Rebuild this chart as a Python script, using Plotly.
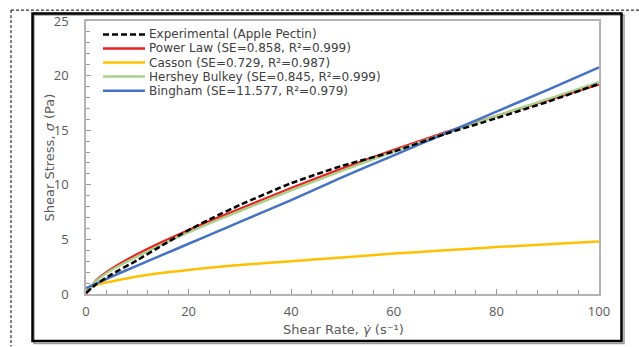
import plotly.graph_objects as go

# ---- data ----
shear_rate = [0, 2, 5, 10, 15, 20, 25, 30, 40, 50, 60, 70, 80, 90, 100]
experimental = [0.1, 0.9, 1.8, 3.1, 4.5, 5.85, 7.05, 8.15, 10.15, 11.75, 13.05, 14.65, 16.1, 17.6, 19.25]
power_law = [0.0, 1.25, 2.3, 3.65, 4.8, 5.85, 6.85, 7.8, 9.7, 11.5, 13.2, 14.8, 16.3, 17.75, 19.2]
casson = [0.5, 0.85, 1.15, 1.6, 1.95, 2.2, 2.45, 2.65, 3.0, 3.35, 3.7, 4.0, 4.3, 4.55, 4.8]
hershey_bulkley = [0.2, 1.2, 2.2, 3.45, 4.6, 5.65, 6.65, 7.6, 9.5, 11.3, 13.05, 14.7, 16.3, 17.85, 19.4]
bingham = [0.55, 0.95, 1.6, 2.6, 3.6, 4.6, 5.6, 6.6, 8.6, 10.7, 12.7, 14.7, 16.7, 18.7, 20.75]

series_names = [
    "Experimental (Apple Pectin)",
    "Power Law (SE=0.858, R²=0.999)",
    "Casson (SE=0.729, R²=0.987)",
    "Hershey Bulkey (SE=0.845, R²=0.999)",
    "Bingham (SE=11.577, R²=0.979)",
]
series_values = [experimental, power_law, casson, hershey_bulkley, bingham]
series_colors = ["#000000", "#f01e1e", "#ffc000", "#a9d18e", "#4472c4"]
series_dash = ["dash", "solid", "solid", "solid", "solid"]

x_ticks = [0, 20, 40, 60, 80, 100]
y_ticks = [0, 5, 10, 15, 20, 25]

FONT = "Open Sans"
LEG_FONT = "DejaVu Sans"
TXT = "#595959"

fig = go.Figure()
# draw order: fits first, experimental on top
order = [1, 2, 3, 4, 0]
for i in order:
    fig.add_trace(go.Scatter(
        x=shear_rate, y=series_values[i], mode="lines", name=series_names[i],
        line=dict(color=series_colors[i], width=2.5,
                  dash="6px,3px" if series_dash[i] == "dash" else "solid",
                  shape="spline", smoothing=0.5),
        showlegend=False, hoverinfo="skip"))

axis_common = dict(showline=True, mirror=True, linecolor="#b3b3b3", linewidth=1.5,
                   showgrid=False, zeroline=False, ticks="inside", ticklen=5,
                   tickcolor="#9a9a9a", tickwidth=1,
                   tickfont=dict(family=FONT, size=13, color=TXT))

fig.update_xaxes(range=[0, 100], tickvals=x_ticks, ticklabelstandoff=5,
                 minor=dict(dtick=4, ticks="inside", ticklen=4, tickcolor="#9a9a9a"),
                 **axis_common)
fig.update_yaxes(range=[0, 25], tickvals=y_ticks, ticklabelstandoff=13,
                 minor=dict(dtick=1, ticks="inside", ticklen=4, tickcolor="#9a9a9a"),
                 **axis_common)

W, H = 639, 347
L, R, T, B = 86, 40, 18, 53
pw, ph = W - L - R, H - T - B


def px(x):
    return (x - L) / pw


def py(y):
    return (H - B - y) / ph


shapes = []
# outer dashed border
shapes.append(dict(type="line", xref="paper", yref="paper", x0=px(11), x1=px(11), y0=py(7), y1=py(347),
                   line=dict(color="#000000", width=1, dash="3px,2px")))
shapes.append(dict(type="line", xref="paper", yref="paper", x0=px(11), x1=px(639), y0=py(7), y1=py(7),
                   line=dict(color="#000000", width=1, dash="3px,2px")))
# black chart frame with light shadow
shapes.append(dict(type="rect", xref="paper", yref="paper", x0=px(34), x1=px(624), y0=py(12), y1=py(344),
                   line=dict(color="#9a9a9a", width=1.5)))
shapes.append(dict(type="rect", xref="paper", yref="paper", x0=px(32.5), x1=px(621.5), y0=py(10.5), y1=py(341.5),
                   line=dict(color="#000000", width=2.5), fillcolor="rgba(0,0,0,0)"))

annotations = []
# manual legend (tight rows like the reference)
leg_rows = [31.6, 45.8, 60.0, 74.2, 88.4]
for i, yy in enumerate(leg_rows):
    shapes.append(dict(type="line", xref="paper", yref="paper", x0=px(103), x1=px(145), y0=py(yy), y1=py(yy),
                       line=dict(color=series_colors[i], width=2.5,
                                 dash="6px,3px" if series_dash[i] == "dash" else "solid")))
    annotations.append(dict(xref="paper", yref="paper", x=px(148), y=py(yy), xanchor="left", yanchor="middle",
                            text=series_names[i], showarrow=False, borderpad=0,
                            font=dict(family=LEG_FONT, size=12, color="#404040")))

annotations.append(dict(xref="paper", yref="paper", x=px(49), y=py(156), text="Shear Stress, <i>σ</i> (Pa)",
                        textangle=-90, showarrow=False, xanchor="center", yanchor="middle", borderpad=0,
                        font=dict(family=LEG_FONT, size=13, color=TXT)))
annotations.append(dict(xref="paper", yref="paper", x=px(343), y=py(330), text="Shear Rate, <i>γ̇</i> (s⁻¹)",
                        showarrow=False, xanchor="center", yanchor="middle", borderpad=0,
                        font=dict(family=LEG_FONT, size=13, color=TXT)))

fig.update_layout(width=W, height=H, autosize=False,
                  margin=dict(l=L, r=R, t=T, b=B, pad=0),
                  paper_bgcolor="white", plot_bgcolor="white",
                  showlegend=False, shapes=shapes, annotations=annotations)

fig.write_html("out.html")
